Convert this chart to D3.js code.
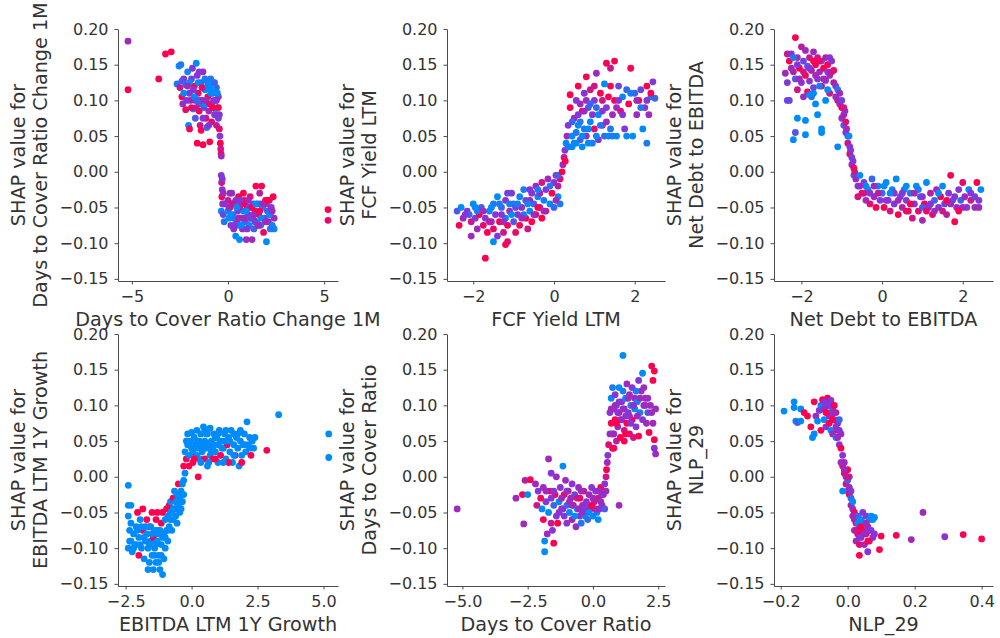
<html>
<head>
<meta charset="utf-8">
<script src="https://d3js.org/d3.v7.min.js"></script>
<style>
  body { margin: 0; background: #fff; }
  svg text { font-family: "DejaVu Sans", sans-serif; fill: #333; }
  .tick text { font-size: 16px; }
  .axis path, .axis line { stroke: #4a4a4a; }
</style>
</head>
<body>
<script>
// feature names, one per panel
var features = ["Days to Cover Ratio Change 1M", "FCF Yield LTM", "Net Debt to EBITDA",
                "EBITDA LTM 1Y Growth", "Days to Cover Ratio", "NLP_29"];
var yTicks = [-0.15, -0.10, -0.05, 0.00, 0.05, 0.10, 0.15, 0.20];
var xTicks = [[-5, 0, 5], [-2, 0, 2], [-2, 0, 2], [-2.5, 0, 2.5, 5], [-5, -2.5, 0, 2.5], [-0.2, 0, 0.2, 0.4]];

// points: [feature value, SHAP value, interaction colour 0=low(blue) .. 1=high(red)]
var p1 = [[-5.2,0.183,0.6],[-5.2,0.115,1],[-3.6,0.13,1],[-3.25,0.165,1],[-2.95,0.168,1],[5.2,-0.053,1],[5.2,-0.068,0.9],
[-2.65,0.123,0.1],[-2.55,0.148,0],[-2.45,0.15,0.1],[-2.5,0.118,0.8],[-2.4,0.105,1],[-2.35,0.095,0.6],[-2.3,0.13,0.5],[-2.2,0.087,0.9],[-2.2,0.122,0.2],[-2.1,0.14,0],[-2.05,0.065,0],[-2.0,0.06,1],[-2.0,0.11,0.5],[-1.95,0.1,0.7],[-1.9,0.13,0.4],[-1.85,0.145,0.5],[-1.8,0.088,0],[-1.75,0.12,1],[-1.7,0.075,0.3],[-1.7,0.1,0.6],[-1.65,0.152,0],[-1.6,0.04,1],[-1.6,0.135,0.5],[-1.55,0.11,0.9],[-1.5,0.085,1],[-1.5,0.095,0.1],[-1.45,0.065,0.8],[-1.4,0.125,0.2],[-1.4,0.058,1],[-1.35,0.1,0.5],[-1.3,0.038,1],[-1.3,0.14,0.6],[-1.25,0.09,0.4],[-1.2,0.115,0],[-1.15,0.075,0.9],[-1.1,0.128,0.5],[-1.1,0.062,0.2],[-1.05,0.105,1],[-1.0,0.085,0.6],[-0.95,0.118,0],[-0.95,0.042,1],[-0.9,0.13,0.1],[-0.85,0.095,0.4],[-0.85,0.07,0.9],[-0.8,0.11,0.6],[-0.75,0.125,0],[-0.7,0.08,0.5],[-0.65,0.1,1],[-0.6,0.118,0.2],[-0.6,0.065,0.7],[-0.55,0.09,0],[-0.5,0.105,0.6],[-0.5,0.075,0.4],[-0.45,0.06,0.9],[-0.42,0.05,0.5],[-0.4,0.04,1],[-0.38,0.032,0.8],[-0.36,0.025,1],[-0.35,0.022,0.6],[-1.75,0.105,0],[-1.2,0.095,0],[-0.7,0.112,0],[-2.4,0.127,0.3],[-1.5,0.14,0.5],[-1.0,0.065,0.5],[-0.65,0.088,0],
[-2.3,0.11,0],[-2.15,0.1,0.5],[-2.0,0.125,0],[-1.9,0.09,0.9],[-1.8,0.115,0.5],[-1.65,0.09,0.8],[-1.55,0.125,0],[-1.45,0.1,0.6],[-1.35,0.118,0.9],[-1.3,0.075,0.5],[-1.2,0.13,0.1],[-1.15,0.1,0.6],[-1.05,0.122,0],[-0.95,0.095,0.9],[-0.9,0.11,0],[-0.8,0.09,1],[-0.75,0.1,0.5],[-0.7,0.125,0.2],[-0.6,0.1,0.5],[-0.55,0.11,0],[-0.5,0.09,1],[-0.45,0.08,0.5],[-1.6,0.1,0.2],[-2.1,0.12,0.6],
[-0.35,-0.005,0.5],[-0.33,-0.015,0.8],[-0.3,-0.025,0.5],[-0.32,-0.035,1],[-0.28,-0.045,0.6],[-0.35,-0.055,0],[-0.25,-0.06,0.4],[-0.2,-0.07,0.1],
[0.0,-0.04,0.7],[0.05,-0.065,0],[0.1,-0.05,1],[0.15,-0.075,0.5],[0.2,-0.03,0.4],[0.25,-0.06,0],[0.3,-0.08,0.6],[0.35,-0.045,0],[0.4,-0.09,0],[0.45,-0.07,0.9],[0.5,-0.055,0.5],[0.55,-0.035,1],[0.6,-0.095,0],[0.65,-0.065,0.2],[0.7,-0.045,0.8],[0.75,-0.08,0.6],[0.8,-0.055,0],[0.85,-0.04,1],[0.9,-0.07,0.3],[0.95,-0.095,0.6],[1.0,-0.05,1],[1.05,-0.06,0.5],[1.1,-0.075,0],[1.15,-0.035,0.9],[1.2,-0.065,1],[1.25,-0.095,0.6],[1.3,-0.045,0.4],[1.35,-0.08,0.2],[1.4,-0.055,1],[1.45,-0.02,1],[1.5,-0.07,0],[1.55,-0.045,0.5],[1.6,-0.06,0.9],[1.65,-0.03,0.7],[1.7,-0.075,0.2],[1.75,-0.02,1],[1.8,-0.05,0],[1.85,-0.085,0.9],[1.9,-0.065,0.5],[1.95,-0.04,1],[2.0,-0.098,0],[2.05,-0.055,0.3],[2.1,-0.07,0.6],[2.15,-0.04,0.8],[2.2,-0.06,0],[2.25,-0.05,0.5],[2.3,-0.075,0.1],[2.35,-0.035,1],[2.4,-0.065,0.6],[2.4,-0.08,0],[0.2,-0.045,1],[0.6,-0.05,0.6],[0.9,-0.045,1],[1.1,-0.05,0.5],[1.3,-0.065,1],[1.6,-0.075,0.6],[0.3,-0.065,0.1],[0.5,-0.075,0],[0.75,-0.065,0.1],[1.0,-0.08,0.5],[1.4,-0.07,0.4],[2.0,-0.045,0.6],[0.1,-0.03,0.6],[0.4,-0.04,0.5],[0.0,-0.055,0],[0.8,-0.03,1],[1.7,-0.045,0.4],[2.2,-0.08,0.1],
[-0.3,-0.01,0.5],[-0.25,-0.03,0.6],[-0.2,-0.045,0.5],[0.05,-0.05,0.6],[0.15,-0.06,0],[0.25,-0.045,0.8],[0.45,-0.05,0],[0.55,-0.065,0.6],[0.7,-0.075,0],[0.85,-0.065,0.6],[0.95,-0.055,0],[1.05,-0.04,0.6],[1.15,-0.065,0.4],[1.25,-0.05,1],[1.35,-0.06,0.6],[1.45,-0.045,0],[1.55,-0.075,0.6],[1.65,-0.055,1],[1.75,-0.065,0],[1.85,-0.045,0.6],[1.95,-0.07,0.6],[2.05,-0.04,1],[2.15,-0.06,0],[2.3,-0.055,0.6],[0.35,-0.075,0.5],[0.65,-0.04,0.5]];

var p2 = [[-1.7,-0.121,1],[-1.2,-0.102,1],[-1.5,-0.098,0],[-1.15,-0.098,0.9],[-2.05,-0.09,0.6],
[-2.4,-0.055,0.3],[-2.35,-0.075,1],[-2.3,-0.05,0],[-2.25,-0.065,0.6],[-2.15,-0.055,0.5],[-2.05,-0.07,0.8],[-2.0,-0.045,0],[-1.95,-0.065,0.5],[-1.9,-0.08,0.6],[-1.85,-0.06,1],[-1.8,-0.05,0.3],[-1.75,-0.075,0.9],[-1.7,-0.065,0.5],[-1.65,-0.085,1],[-1.6,-0.055,0],[-1.55,-0.07,0.6],[-1.5,-0.045,0.1],[-1.5,-0.08,0.9],[-1.45,-0.06,0.5],[-1.4,-0.035,0],[-1.4,-0.09,0.5],[-1.35,-0.07,1],[-1.3,-0.05,0.2],[-1.25,-0.085,0.8],[-1.2,-0.04,0.5],[-1.2,-0.065,0],[-1.15,-0.075,1],[-1.1,-0.055,0.6],[-1.05,-0.03,0.5],[-1.0,-0.07,0.3],[-1.0,-0.045,0],[-0.95,-0.085,0.9],[-0.9,-0.06,0.5],[-0.85,-0.035,0],[-0.85,-0.075,1],[-0.8,-0.05,0.6],[-0.75,-0.025,0.1],[-0.7,-0.065,1],[-0.7,-0.04,0.4],[-0.65,-0.08,0.8],[-0.6,-0.055,0],[-0.55,-0.03,0.5],[-0.55,-0.07,1],[-0.5,-0.045,0.2],[-0.45,-0.02,0.6],[-0.45,-0.06,0.9],[-0.4,-0.035,0],[-0.35,-0.05,0.5],[-0.3,-0.015,0.8],[-0.3,-0.065,1],[-0.25,-0.04,0.1],[-0.2,-0.025,0.5],[-0.2,-0.055,0.9],[-0.15,-0.01,0.6],[-0.1,-0.045,0],[-0.05,-0.03,1],[0.0,-0.015,0.5],[0.0,-0.05,0.2],[0.05,-0.005,0.6],[0.1,-0.035,0],[0.1,-0.02,0.7],[0.15,-0.045,0.1],[0.15,-0.01,0.9],[-1.9,-0.055,0.1],[-1.3,-0.06,0.5],[-1.1,-0.045,0.1],[-0.95,-0.05,0.4],[-0.6,-0.04,0.6],[-0.4,-0.05,1],[-0.75,-0.06,0.1],[-1.6,-0.07,0.7],[-2.1,-0.06,0.2],[-0.35,-0.03,0.6],
[-2.2,-0.06,0.5],[-1.95,-0.05,0],[-1.75,-0.055,0.6],[-1.55,-0.05,0],[-1.35,-0.045,0.1],[-1.25,-0.07,0.6],[-1.05,-0.06,0],[-0.9,-0.045,0.1],[-0.8,-0.065,0.6],[-0.65,-0.045,0],[-0.5,-0.06,0.6],[-0.4,-0.025,0.1],[-0.25,-0.055,0.6],[-0.1,-0.02,0.1],[0.05,-0.04,0.6],[-0.6,-0.025,0.5],[-1.15,-0.03,0.4],[0.1,-0.005,0.2],
[0.2,0.0,1],[0.22,0.01,0.6],[0.25,0.02,0.8],[0.27,0.03,0.5],[0.3,0.04,0],[0.32,0.05,0.6],[0.28,0.015,1],
[0.35,0.035,0.1],[0.35,0.065,0.5],[0.4,0.09,1],[0.4,0.108,1],[0.45,0.05,0],[0.5,0.075,0.6],[0.5,0.04,0.1],[0.55,0.1,0.5],[0.6,0.065,0],[0.6,0.12,1],[0.65,0.045,0.3],[0.7,0.085,0.9],[0.7,0.035,0],[0.75,0.11,0.5],[0.75,0.06,0.1],[0.8,0.133,1],[0.8,0.05,0.6],[0.85,0.09,0.3],[0.9,0.07,0],[0.9,0.115,0.8],[0.95,0.04,0.1],[1.0,0.1,0.5],[1.0,0.06,0.9],[1.05,0.138,0.6],[1.1,0.08,0],[1.1,0.045,0.5],[1.15,0.11,1],[1.2,0.065,0.6],[1.25,0.123,0],[1.25,0.05,0.2],[1.3,0.152,1],[1.3,0.09,0.5],[1.35,0.105,1],[1.4,0.06,0.1],[1.4,0.145,0.8],[1.45,0.08,0.6],[1.5,0.1,1],[1.5,0.155,1],[1.55,0.05,0],[1.6,0.12,0.4],[1.65,0.085,0.9],[1.7,0.105,0],[1.75,0.06,0.5],[1.8,0.115,0.2],[1.85,0.095,1],[1.9,0.145,1],[1.95,0.05,0],[2.0,0.11,0.2],[2.05,0.08,0.6],[2.1,0.1,1],[2.15,0.115,0.4],[2.2,0.06,0],[2.25,0.09,0.5],[2.3,0.04,0.1],[2.3,0.12,1],[2.35,0.08,0.6],[2.4,0.105,0],[2.45,0.126,0.5],[2.5,0.103,0.2],[2.4,0.11,1],[0.45,0.07,0.2],[0.55,0.055,0.1],[0.65,0.095,0.6],[0.85,0.06,0],[1.2,0.1,0.8],[1.6,0.1,0.5],[1.05,0.09,0.2],[1.35,0.05,0],[0.6,0.08,0.5],[0.8,0.1,0.6],
[0.45,0.035,0],[0.55,0.04,0],[0.65,0.07,0.1],[0.7,0.05,0],[0.75,0.085,0.6],[0.85,0.04,0],[0.95,0.08,0.5],[1.05,0.05,0],[1.15,0.065,0.1],[1.2,0.085,0.5],[1.3,0.07,0.6],[1.45,0.05,0.1],[1.55,0.09,0.6],[1.7,0.08,0.5],[1.8,0.05,0],[1.9,0.11,0.1],[2.05,0.1,0.6],[2.15,0.09,0.1],[2.3,0.1,0.5],[1.0,0.12,0.8],[1.4,0.12,1],[0.9,0.095,0.2]];

var p3 = [[-2.4,0.138,0.6],[-2.35,0.165,0.8],[-2.35,0.125,0.5],[-2.3,0.155,1],[-2.3,0.1,0.4],[-2.25,0.165,0.5],[-2.2,0.14,0.7],[-2.15,0.188,1],[-2.15,0.13,0.3],[-2.1,0.16,0.6],[-2.1,0.115,0.8],[-2.05,0.145,1],[-2.0,0.175,0.7],[-2.0,0.125,0.5],[-1.95,0.155,0.4],[-1.95,0.105,0.6],[-1.9,0.135,1],[-1.9,0.17,0.6],[-1.85,0.148,0.3],[-1.85,0.112,1],[-1.8,0.16,0.8],[-1.8,0.127,0.5],[-1.75,0.142,0.7],[-1.7,0.168,0.6],[-1.7,0.118,0.4],[-1.65,0.15,1],[-1.6,0.13,0.5],[-1.6,0.16,0.8],[-1.55,0.14,0.6],[-1.5,0.155,0.2],[-1.5,0.12,0.9],[-1.45,0.145,1],[-1.4,0.128,0.5],[-1.4,0.16,0.7],[-1.35,0.15,1],[-1.3,0.135,0.6],[-1.3,0.11,0.8],[-1.25,0.155,0.5],[-1.2,0.142,1],[-1.2,0.125,0.7],[-2.2,0.16,0.1],[-1.75,0.105,0.2],[-1.55,0.12,0.1],
[-2.25,0.145,0.6],[-2.05,0.13,0.6],[-1.95,0.14,0.8],[-1.8,0.145,0.5],[-1.65,0.135,0.6],[-1.55,0.155,0.9],[-1.45,0.13,0.6],[-1.35,0.14,0.5],[-1.25,0.14,0.8],[-2.1,0.15,0.5],[-1.7,0.155,1],[-1.3,0.16,0.5],
[-2.2,0.045,0],[-2.15,0.055,0.3],[-2.1,0.075,0],[-1.9,0.072,0],[-1.9,0.052,0],[-1.65,0.095,0],[-1.6,0.08,0],[-1.5,0.06,0],[-1.5,0.055,0],[-1.8,0.108,0],[-1.7,0.11,0],[-1.4,0.1,0],[-1.35,0.115,0],[-1.1,0.035,0],[-2.35,0.1,0.4],
[-1.15,0.12,0.5],[-1.1,0.115,0.1],[-1.1,0.1,0.8],[-1.05,0.095,0.6],[-1.0,0.09,1],[-1.0,0.075,0.5],[-0.95,0.08,0.7],[-0.95,0.065,0.3],[-0.9,0.07,0.9],[-0.9,0.055,0.5],[-0.85,0.05,0.2],[-0.85,0.04,0.8],[-0.8,0.035,0.5],[-0.8,0.025,1],[-0.75,0.02,0.4],[-0.75,0.01,0.6],[-0.7,0.005,1],[-0.7,-0.005,0.3],[-0.65,-0.01,0.6],[-1.05,0.11,0.6],[-0.92,0.085,0.5],[-0.82,0.05,0],[-0.72,0.015,0.5],
[-1.15,0.105,0.6],[-1.0,0.1,0.4],[-0.95,0.09,0.8],[-0.88,0.06,0.6],[-0.78,0.03,0.5],[-0.68,0.0,0.8],
[-0.6,-0.02,0.5],[-0.6,-0.035,0.8],[-0.55,-0.005,0],[-0.5,-0.03,1],[-0.45,-0.015,0.4],[-0.4,-0.04,0.6],[-0.35,-0.025,0],[-0.3,-0.045,0.9],[-0.25,-0.01,0.2],[-0.2,-0.035,0.6],[-0.15,-0.05,1],[-0.1,-0.02,0],[-0.05,-0.04,0.5],[0.0,-0.03,0.2],[0.05,-0.05,1],[0.1,-0.015,0],[0.15,-0.04,0.6],[0.2,-0.055,0.8],[0.25,-0.025,0.1],[0.3,-0.045,0.5],[0.35,-0.01,0],[0.4,-0.06,1],[0.45,-0.035,0.4],[0.5,-0.05,0.7],[0.55,-0.025,0],[0.6,-0.04,0.5],[0.65,-0.055,1],[0.7,-0.03,0.2],[0.75,-0.065,0.8],[0.8,-0.045,0.5],[0.85,-0.02,0],[0.9,-0.055,0.9],[0.95,-0.035,0.3],[1.0,-0.068,0.6],[1.05,-0.045,1],[1.1,-0.015,0],[1.15,-0.05,0.5],[1.2,-0.03,0.7],[1.25,-0.06,0.9],[1.3,-0.04,0.2],[1.35,-0.025,0.6],[1.4,-0.05,0.5],[1.45,-0.035,1],[1.5,-0.02,0],[1.55,-0.045,0.4],[1.6,-0.06,0.7],[1.65,-0.03,0.5],[1.7,-0.005,1],[1.75,-0.04,0.3],[1.8,-0.07,1],[1.85,-0.05,0.6],[1.9,-0.025,0.5],[1.95,-0.04,0.2],[2.0,-0.015,0.9],[2.05,-0.035,0.6],[2.1,-0.05,0.5],[2.15,-0.025,0],[2.2,-0.04,0.8],[2.3,-0.035,0.4],[2.35,-0.015,1],[2.4,-0.05,0.6],[2.45,-0.025,0],[2.4,-0.04,0.5],[-0.4,-0.02,0],[0.3,-0.03,0.6],[0.7,-0.045,1],[1.2,-0.045,0.5],[1.5,-0.055,0.8],[0.05,-0.02,0],[0.9,-0.025,0.1],[-0.1,-0.03,0.7],[1.0,-0.05,0.3],[1.7,-0.045,0.6],
[-0.55,-0.02,0.6],[-0.45,-0.03,0.8],[-0.3,-0.03,0.5],[-0.2,-0.02,0.6],[0.1,-0.04,0.5],[0.2,-0.03,0],[0.4,-0.04,0.6],[0.5,-0.03,0.5],[0.6,-0.055,0.9],[0.8,-0.03,0.6],[1.0,-0.035,0.5],[1.1,-0.055,0.9],[1.3,-0.055,0.6],[1.4,-0.03,0],[1.6,-0.04,1],[1.8,-0.035,0.5],[2.0,-0.05,0.6],[2.2,-0.03,0.5],[2.3,-0.05,0.6],[1.9,-0.055,1],[0.6,-0.02,0]];

var p4 = [[-2.4,-0.012,0],[3.3,0.087,0],[5.2,0.06,0],[5.2,0.027,0],[2.85,0.037,1],
[-2.4,-0.04,0],[-2.4,-0.055,0],[-2.4,-0.1,0],[-2.35,-0.075,0],[-2.3,-0.09,0],[-2.3,-0.065,0],[-2.25,-0.105,0],[-2.2,-0.08,0],[-2.15,-0.095,0],[-2.1,-0.07,0],[-2.05,-0.05,1],[-2.0,-0.11,1],[-2.0,-0.085,0],[-1.95,-0.06,0],[-1.9,-0.1,0],[-1.85,-0.045,1],[-1.85,-0.075,1],[-1.8,-0.115,0],[-1.75,-0.09,0],[-1.7,-0.06,1],[-1.7,-0.08,0],[-1.65,-0.1,0],[-1.6,-0.12,0],[-1.6,-0.07,1],[-1.55,-0.09,0],[-1.5,-0.05,1],[-1.5,-0.11,0],[-1.45,-0.085,1],[-1.45,-0.13,0],[-1.4,-0.075,0],[-1.4,-0.1,0],[-1.35,-0.06,1],[-1.35,-0.12,0],[-1.3,-0.09,0],[-1.3,-0.05,1],[-1.25,-0.11,0],[-1.2,-0.075,0],[-1.2,-0.13,0],[-1.15,-0.065,1],[-1.15,-0.095,0],[-1.1,-0.137,0],[-1.1,-0.05,1],[-1.05,-0.08,0],[-1.05,-0.115,0],[-1.0,-0.06,0],[-1.0,-0.1,0],[-0.95,-0.045,1],[-0.95,-0.075,0],[-0.9,-0.09,0],[-0.9,-0.055,0],[-0.85,-0.04,1],[-0.85,-0.07,0],[-0.8,-0.06,0],[-0.8,-0.035,0],[-0.75,-0.05,0],[-0.75,-0.075,0],[-0.7,-0.03,1],[-0.7,-0.06,0],[-0.65,-0.045,0],[-0.65,-0.02,0],[-0.6,-0.055,0],[-0.6,-0.035,0],[-0.55,-0.025,0],[-0.55,-0.065,0],[-0.5,-0.04,0],[-0.5,-0.01,1],[-0.45,-0.03,0],[-0.45,-0.05,0],[-0.4,-0.02,0],[-0.4,-0.045,0],[-0.35,-0.01,0],[-0.35,-0.035,0],[-0.3,-0.025,0],[-0.3,-0.005,0],[-0.25,0.005,0],[-2.3,-0.04,0],[-1.9,-0.07,0],[-1.55,-0.07,0],[-1.25,-0.08,0],[-1.65,-0.13,0],[-2.1,-0.095,0],
[-2.35,-0.09,0],[-2.2,-0.1,0],[-2.05,-0.075,0],[-1.95,-0.095,0],[-1.8,-0.085,0],[-1.75,-0.07,0],[-1.6,-0.095,0],[-1.5,-0.08,0],[-1.4,-0.11,0],[-1.3,-0.075,0],[-1.25,-0.12,0],[-1.1,-0.085,0],[-1.0,-0.085,0],[-0.9,-0.075,0],[-0.8,-0.05,0],[-0.7,-0.045,0],[-0.6,-0.045,0],[-0.5,-0.025,0],[-1.15,-0.11,0],[-1.35,-0.095,0],
[-0.3,0.015,1],[-0.25,0.035,0],[-0.2,0.05,0],[-0.2,0.025,1],[-0.15,0.045,0],[-0.15,0.06,0],[-0.1,0.03,0],[-0.1,0.015,1],[-0.05,0.05,0],[0.0,0.04,0],[0.0,0.062,0],[0.05,0.02,1],[0.05,0.035,0],[0.1,0.055,0],[0.15,0.045,0],[0.15,0.028,1],[0.2,0.065,0],[0.25,0.04,0],[0.25,0.0,1],[0.3,0.05,0],[0.3,0.025,0],[0.35,0.06,0],[0.4,0.035,0],[0.4,0.045,1],[0.45,0.07,0],[0.5,0.05,0],[0.5,0.025,1],[0.55,0.04,0],[0.6,0.06,0],[0.6,0.015,0],[0.65,0.045,1],[0.7,0.03,0],[0.7,0.068,0],[0.75,0.05,0],[0.8,0.025,1],[0.8,0.04,0],[0.85,0.06,0],[0.9,0.035,0],[0.95,0.055,0],[1.0,0.02,0],[1.0,0.045,0],[1.05,0.065,0],[1.1,0.03,1],[1.15,0.05,0],[1.2,0.04,0],[1.25,0.06,0],[1.3,0.025,0],[1.35,0.045,1],[1.4,0.055,0],[1.45,0.035,0],[1.5,0.065,0],[1.55,0.02,0],[1.6,0.045,0],[1.65,0.03,1],[1.7,0.055,0],[1.75,0.04,0],[1.8,0.015,0],[1.85,0.05,0],[1.85,0.065,0],[1.9,0.03,0],[1.95,0.045,0],[2.0,0.06,0],[2.05,0.035,0],[2.1,0.077,0],[2.15,0.045,0],[2.2,0.055,0],[2.25,0.03,1],[2.3,0.05,0],[2.35,0.04,0],[2.4,0.055,0],[0.35,0.02,0],[0.65,0.02,0],[0.9,0.055,0],[1.1,0.05,0],[1.4,0.02,1],[0.2,0.03,0],[0.55,0.06,0],[1.2,0.02,0],[1.6,0.06,0],[1.9,0.02,1],
[-0.1,0.045,0],[0.1,0.04,0],[0.2,0.05,0],[0.35,0.045,0],[0.45,0.04,0],[0.6,0.045,0],[0.75,0.035,0],[0.85,0.045,0],[1.0,0.06,0],[1.15,0.04,0],[1.3,0.05,0],[1.45,0.05,0],[1.6,0.03,0],[1.75,0.06,0],[2.0,0.045,0],[2.2,0.04,0],[0.5,0.065,0],[1.3,0.065,0],[0.1,0.025,1],[0.9,0.025,1]];

var p5 = [[-5.2,-0.045,0.6],[-2.65,-0.066,0.6],[-2.95,-0.03,0.6],[-2.7,-0.025,1],[-2.6,-0.005,0.7],[-2.4,-0.004,1],[-2.5,-0.025,0],
[-2.2,-0.01,0.6],[-2.15,-0.04,0.8],[-2.1,-0.02,0.5],[-2.0,-0.03,1],[-1.95,-0.045,0],[-1.9,-0.06,1],[-1.9,-0.015,0.6],[-1.85,-0.09,0],[-1.85,-0.105,0],[-1.8,-0.035,0.5],[-1.75,-0.08,0.6],[-1.7,0.025,0.6],[-1.7,-0.05,0],[-1.65,-0.02,1],[-1.6,-0.065,0.8],[-1.6,0.005,0.5],[-1.55,-0.075,0.5],[-1.5,-0.04,0.2],[-1.5,-0.093,1],[-1.45,-0.025,0.9],[-1.4,-0.055,0.5],[-1.4,0.0,0.6],[-1.35,-0.065,1],[-1.3,-0.035,0],[-1.25,-0.015,0.5],[-1.2,-0.045,0.8],[-1.15,0.015,0],[-1.1,-0.055,0.5],[-1.1,-0.025,1],[-1.05,-0.005,0.6],[-1.0,-0.065,0.5],[-1.0,-0.04,0.2],[-0.95,-0.02,1],[-0.9,-0.05,0],[-0.85,-0.03,0.6],[-0.8,-0.06,0.7],[-0.8,-0.01,0.5],[-0.75,-0.04,1],[-0.7,-0.025,0.4],[-0.65,-0.07,0.6],[-0.6,-0.045,0],[-0.55,-0.015,0.6],[-0.5,-0.055,0.5],[-0.5,-0.03,1],[-0.45,-0.065,0.1],[-0.4,-0.04,0.6],[-0.35,-0.02,0.8],[-0.3,-0.055,0],[-0.25,-0.035,0.5],[-0.2,-0.06,0.2],[-0.15,-0.025,0.6],[-0.1,-0.045,1],[-0.05,-0.015,0.5],[0.0,-0.055,0],[0.05,-0.035,0.7],[0.1,-0.02,0.5],[0.15,-0.05,0.1],[0.2,-0.03,0.8],[0.25,-0.045,0.5],[0.3,-0.015,1],[0.35,-0.04,0.6],[0.4,-0.025,0.9],[0.45,-0.01,0.5],[0.45,-0.045,0.3],[-1.3,-0.05,0.5],[-0.9,-0.035,0.6],[-0.6,-0.03,0.8],[-0.2,-0.04,0.5],[0.2,-0.06,0],[-1.6,-0.03,0.5],[-0.4,-0.05,0.6],[0.3,-0.035,0.6],[1.0,-0.04,0.6],
[-1.8,-0.02,0.6],[-1.5,-0.02,0.5],[-1.2,-0.03,0.6],[-1.0,-0.02,0.5],[-0.8,-0.04,0.6],[-0.7,-0.055,0],[-0.55,-0.045,0.6],[-0.35,-0.045,0.5],[-0.15,-0.05,0],[0.0,-0.03,0.6],[0.1,-0.045,0.6],[0.35,-0.025,0.5],[-0.45,-0.02,0.6],[-1.15,-0.045,0.5],[-0.05,-0.04,1],[0.25,-0.02,0.6],
[0.5,0.0,0.8],[0.52,0.01,1],[0.55,0.02,0.6],[0.57,0.03,0.5],[0.6,0.045,0.9],[0.5,-0.02,0.6],
[0.65,0.06,0.6],[0.65,0.09,0.5],[0.7,0.11,0],[0.7,0.075,1],[0.75,0.04,0.8],[0.75,0.125,0.1],[0.8,0.095,0.6],[0.8,0.06,0.5],[0.85,0.08,1],[0.85,0.115,0.5],[0.9,0.05,0.7],[0.9,0.1,0.2],[0.95,0.07,0.6],[1.0,0.125,0],[1.0,0.09,0.9],[1.05,0.055,1],[1.1,0.105,0.5],[1.1,0.08,0.6],[1.15,0.17,0],[1.15,0.12,0.1],[1.2,0.065,0.8],[1.2,0.095,0.5],[1.25,0.11,0],[1.3,0.075,1],[1.3,0.13,0.6],[1.35,0.09,0.5],[1.4,0.06,0.9],[1.4,0.115,0.6],[1.45,0.1,0],[1.5,0.08,1],[1.5,0.125,0.5],[1.55,0.055,0.8],[1.6,0.095,0],[1.6,0.11,0.6],[1.65,0.07,0.5],[1.7,0.105,0],[1.75,0.057,1],[1.75,0.135,0.5],[1.8,0.09,0.1],[1.85,0.12,0.6],[1.9,0.145,0],[1.9,0.08,0.5],[1.95,0.1,0.6],[2.0,0.11,0.5],[2.05,0.075,0.6],[2.1,0.09,0.3],[2.15,0.062,1],[2.2,0.1,0.6],[2.25,0.155,1],[2.3,0.135,1],[2.3,0.075,0.6],[2.35,0.148,1],[2.35,0.04,0.5],[2.4,0.032,0.6],[2.4,0.095,0.6],[2.35,0.052,1],[2.0,0.1,0.6],[1.2,0.05,1],[0.8,0.04,1],[1.0,0.105,0.5],[1.4,0.085,0.6],
[0.7,0.095,0.6],[0.75,0.06,0.6],[0.85,0.1,0.6],[0.95,0.09,0.5],[1.05,0.08,0.6],[1.15,0.095,0.6],[1.25,0.085,0.5],[1.35,0.11,0.6],[1.45,0.075,0.5],[1.55,0.1,0.6],[1.65,0.12,0.1],[1.8,0.11,0.6],[1.95,0.125,0.6],[2.1,0.11,0.6],[2.25,0.09,0.6],[0.9,0.075,1],[1.25,0.06,1],[1.7,0.085,0.6]];

var p6 = [[-0.19,0.092,0],[-0.16,0.105,0],[-0.16,0.097,0],[-0.155,0.078,0],[-0.15,0.076,0.3],[-0.14,0.095,0],[-0.14,0.078,0],[-0.13,0.09,1],[-0.12,0.085,1],[-0.11,0.07,1],[-0.105,0.055,0],[-0.1,0.06,0],[-0.1,0.105,1],[-0.095,0.085,0.6],[-0.09,0.078,0],[-0.085,0.093,0.5],[-0.08,0.065,1],[-0.08,0.1,0.1],
[-0.075,0.108,1],[-0.07,0.095,0.6],[-0.07,0.08,0],[-0.065,0.105,0.8],[-0.065,0.07,0.5],[-0.06,0.11,1],[-0.06,0.09,0.3],[-0.055,0.1,0.6],[-0.055,0.075,1],[-0.05,0.107,0.5],[-0.05,0.085,0.9],[-0.05,0.065,0],[-0.045,0.095,0.4],[-0.045,0.06,0.6],[-0.04,0.1,1],[-0.04,0.08,0.5],[-0.035,0.09,0.8],[-0.035,0.055,0],[-0.03,0.075,0.6],[-0.03,0.065,1],[-0.025,0.045,0.5],[-0.025,0.08,0.2],[-0.02,0.06,0.6],[-0.02,0.04,1],
[-0.06,0.1,0.5],[-0.055,0.085,0.6],[-0.045,0.08,1],[-0.04,0.09,0.6],[-0.035,0.07,0.5],[-0.03,0.055,0.6],[-0.025,0.065,0.5],[-0.065,0.09,1],[-0.07,0.105,0.5],
[-0.015,0.03,0.5],[-0.015,0.015,0.9],[-0.01,0.02,0.6],[-0.01,0.005,1],[-0.005,0.0,0.5],[-0.005,-0.01,0.8],[0.0,-0.005,0.3],[0.0,0.01,1],[0.0,-0.02,0.5],[0.005,-0.025,1],[0.005,-0.015,0.6],[0.01,-0.03,0.2],[0.01,-0.04,0.8],[0.015,-0.045,0.5],[0.015,-0.035,0],[0.02,-0.05,1],[0.02,-0.06,0.6],[-0.015,-0.02,0],[-0.02,0.02,0.6],[0.005,0.0,0.5],[-0.01,0.01,0.6],[0.0,0.0,0.8],[0.01,-0.02,0.5],
[0.02,-0.075,0.5],[0.025,-0.065,1],[0.025,-0.09,0.6],[0.03,-0.055,0.2],[0.03,-0.08,1],[0.035,-0.07,0.5],[0.035,-0.11,1],[0.035,-0.095,0.9],[0.04,-0.06,0],[0.04,-0.085,0.6],[0.045,-0.075,0.8],[0.045,-0.05,0.5],[0.05,-0.065,0.1],[0.05,-0.095,0.6],[0.055,-0.08,1],[0.055,-0.055,0.5],[0.06,-0.07,0.6],[0.06,-0.105,0.5],[0.065,-0.06,0],[0.065,-0.09,0.7],[0.07,-0.075,0.5],[0.07,-0.055,0],[0.075,-0.085,0.6],[0.075,-0.06,0],[0.08,-0.057,0],[0.08,-0.08,0.5],[0.03,-0.065,0],[0.045,-0.065,0],
[0.015,-0.055,0.6],[0.025,-0.075,0.8],[0.035,-0.085,0.5],[0.04,-0.07,1],[0.05,-0.08,0.6],[0.06,-0.09,1],[0.065,-0.075,0.5],[0.055,-0.065,0.6],
[0.1,-0.083,1],[0.095,-0.102,1],[0.145,-0.082,1],[0.19,-0.088,0.6],[0.225,-0.05,0.6],[0.29,-0.084,0.5],[0.345,-0.081,1],[0.4,-0.087,1]];

var panels = [p1, p2, p3, p4, p5, p6];
var xDomains = [[-5.72, 5.72], [-2.65, 2.75], [-2.68, 2.75], [-2.79, 5.55], [-5.59, 2.76], [-0.22, 0.434]];

var W = 1000, H = 638;
var colLeft = [118, 447, 774], colRight = [338, 665, 993];
var rowTop = [29, 334], rowBottom = [281, 586];

// blue -> violet -> red, close to the shap red_blue map
var color = d3.piecewise(d3.interpolateRgb, ["rgb(0,139,251)", "rgb(135,52,216)", "rgb(255,0,81)"]);

var svg = d3.select("body").append("svg")
    .attr("width", W)
    .attr("height", H);

panels.forEach(function(pts, i) {
    var col = i % 3, row = Math.floor(i / 3);
    var x = d3.scaleLinear().domain(xDomains[i]).range([colLeft[col], colRight[col]]);
    var y = d3.scaleLinear().domain([-0.153, 0.2]).range([rowBottom[row], rowTop[row]]);

    var g = svg.append("g");

    g.append("g").attr("class", "axis")
        .attr("transform", "translate(0," + rowBottom[row] + ")")
        .call(d3.axisBottom(x).tickValues(xTicks[i]).tickSize(3.5).tickSizeOuter(0).tickPadding(6)
              .tickFormat(function(d) {
                  var s = (i >= 3) ? d3.format(".1f")(d) : d3.format("d")(d);
                  return s.replace("-", "\u2212");
              }));

    g.append("g").attr("class", "axis")
        .attr("transform", "translate(" + colLeft[col] + ",0)")
        .call(d3.axisLeft(y).tickValues(yTicks).tickSize(3.5).tickSizeOuter(0).tickPadding(6)
              .tickFormat(function(d) { return d3.format(".2f")(d).replace("-", "\u2212"); }));

    g.selectAll("circle")
        .data(pts)
        .enter()
        .append("circle")
        .attr("cx", function(d) { return x(d[0]); })
        .attr("cy", function(d) { return y(d[1]); })
        .attr("r", 3.4)
        .attr("fill", function(d) { return color(d[2]); });

    // x label
    g.append("text")
        .attr("x", (colLeft[col] + colRight[col]) / 2)
        .attr("y", rowBottom[row] + 45)
        .attr("text-anchor", "middle")
        .style("font-size", "19.2px")
        .text(features[i]);

    // two-line y label
    var cy = (rowTop[row] + rowBottom[row]) / 2;
    var ylab = g.append("text")
        .attr("transform", "translate(" + (colLeft[col] - 71) + "," + cy + ") rotate(-90)")
        .attr("text-anchor", "middle")
        .style("font-size", "19.2px");
    ylab.append("tspan").attr("x", 0).attr("dy", "-22").text("SHAP value for");
    ylab.append("tspan").attr("x", 0).attr("dy", "22").text(features[i]);
});
</script>
</body>
</html>
